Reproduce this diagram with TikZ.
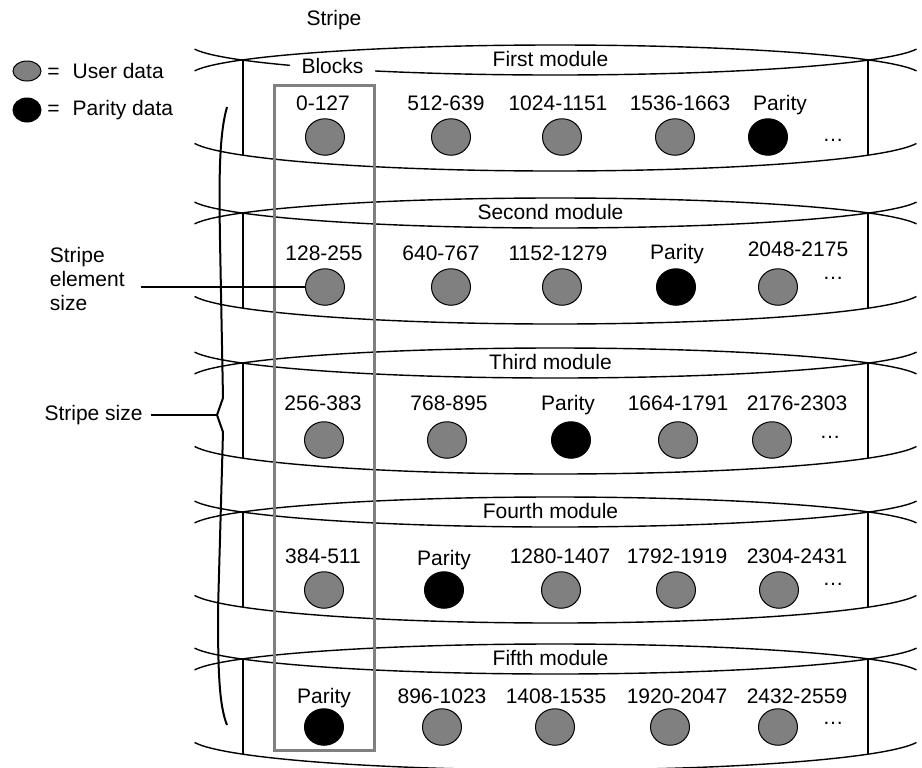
\documentclass[tikz,border=0pt]{standalone}
\usepackage{fontspec}
\setmainfont{Liberation Sans}
\usepackage{tikz}
\usetikzlibrary{positioning,shapes.geometric}
\usepackage{xcolor}
\definecolor{stGrey}{RGB}{128, 128, 128}

\begin{document}
\begin{tikzpicture}[x=0.5pt, y=0.5pt,
    every node/.style={font=\fontsize{10.5}{12}\selectfont, inner sep=1pt},
    modline/.style={line width=0.7pt},
    userblk/.style={ellipse, draw=black, line width=0.5pt, fill=stGrey,
      minimum width=19.5pt, minimum height=18.25pt, inner sep=0pt},
    paritblk/.style={userblk, fill=black}]
    \useasboundingbox (0,0) rectangle (922,-767);

    % the five modules (disk bands)
    \foreach \m/\y/\name in {1/60/First, 2/213/Second, 3/363/Third,
      4/512/Fourth, 5/659/Fifth}{%
      \draw[modline] (555.5,-\y-16) ++(170.5:366 and 31)
        arc[start angle=170.5, end angle=9.5, x radius=366, y radius=31];
      \draw[modline] (555.5,-\y+16) ++(189.5:366 and 31)
        arc[start angle=189.5, end angle=350.5, x radius=366, y radius=31];
      \draw[modline] (555.5,-\y-78) ++(189.5:366 and 33)
        arc[start angle=189.5, end angle=350.5, x radius=366, y radius=33];
      \draw[modline] (243,-\y) -- (243,-\y-95.2);
      \draw[modline] (868,-\y) -- (868,-\y-95.2);
      \node[anchor=base] (mod\m) at (550.5,-\y-6) {\name\ module};
    }
    \node[anchor=base, fill=white, inner xsep=6pt, inner ysep=1pt] (blocks)
      at (332.5,-73.3) {Blocks};
    \node[anchor=base] (stripe) at (334,-25) {Stripe};

    % stripe elements: row/col/label/label x/label y/circle x/circle y/kind
    \foreach \r/\c/\txt/\lx/\ly/\cx/\cy/\kind in {%
      1/1/0-127/323/110/325/137/userblk,%
      1/2/512-639/446/110/451/137/userblk,%
      1/3/1024-1151/558/110/562/137/userblk,%
      1/4/1536-1663/680/110/675/137/userblk,%
      1/5/Parity/780/110/768/137/paritblk,%
      2/1/128-255/324/260/325/287/userblk,%
      2/2/640-767/441/260/451/287/userblk,%
      2/3/1152-1279/558/260/562/287/userblk,%
      2/4/Parity/677/259/676/287/paritblk,%
      2/5/2048-2175/798/256/778/287/userblk,%
      3/1/256-383/323/410/324/440/userblk,%
      3/2/768-895/449/410/447/440/userblk,%
      3/3/Parity/568/410/571/440/paritblk,%
      3/4/1664-1791/678/410/678/440/userblk,%
      3/5/2176-2303/797/410/772/440/userblk,%
      4/1/384-511/323/563/324/590/userblk,%
      4/2/Parity/444/565/444/590/paritblk,%
      4/3/1280-1407/560/563/561/590/userblk,%
      4/4/1792-1919/677/563/676/590/userblk,%
      4/5/2304-2431/797/563/779/590/userblk,%
      5/1/Parity/324/703/324/727/paritblk,%
      5/2/896-1023/442/703/442/727/userblk,%
      5/3/1408-1535/556/703/555/727/userblk,%
      5/4/1920-2047/677/703/670/727/userblk,%
      5/5/2432-2559/797/703/778/727/userblk%
    }{%
      \node[anchor=base] (l\r\c) at (\lx,-\ly) {\txt};
      \node[\kind] (c\r\c) at (\cx,-\cy) {};
    }
    \foreach \r/\dx/\dy in {1/833/140, 2/833/278, 3/830/437, 4/833/584, 5/833/723}{%
      \node (dots\r) at (\dx,-\dy) {…};
    }

    % first stripe element column
    \draw[stGrey, line width=1.5pt] (274,-85) rectangle (374,-750);

    % stripe size brace
    \draw[line width=1pt] (227,-107) .. controls (219,-135) and (219,-180) .. (220,-240)
      -- (223,-398) -- (217,-415) coordinate (bracetip) -- (223,-432)
      -- (218,-610) .. controls (218,-670) and (219,-705) .. (227,-725);
    \node[anchor=base east] (stripesize) at (145,-420.5) {Stripe size};
    \draw[modline] (stripesize.east |- bracetip) ++(6,0) -- (bracetip);

    \node[anchor=north west, align=left] (elemlbl) at (47.5,-244.5)
      {Stripe\\element\\size};
    \draw[modline] (elemlbl.east |- c21.west) ++(14,0) -- (c21.west);

    % legend
    \node[userblk, minimum width=14pt, minimum height=10pt] (keyuser) at (27,-71) {};
    \node[paritblk, minimum width=14pt, minimum height=12pt] (keypar) at (27,-110) {};
    \node[anchor=base west] (keyuserlbl) at (45,-78) {=\hspace{6.5pt}User data};
    \node[anchor=base west] (keyparlbl) at (45,-115) {=\hspace{6.5pt}Parity data};
\end{tikzpicture}
\end{document}
